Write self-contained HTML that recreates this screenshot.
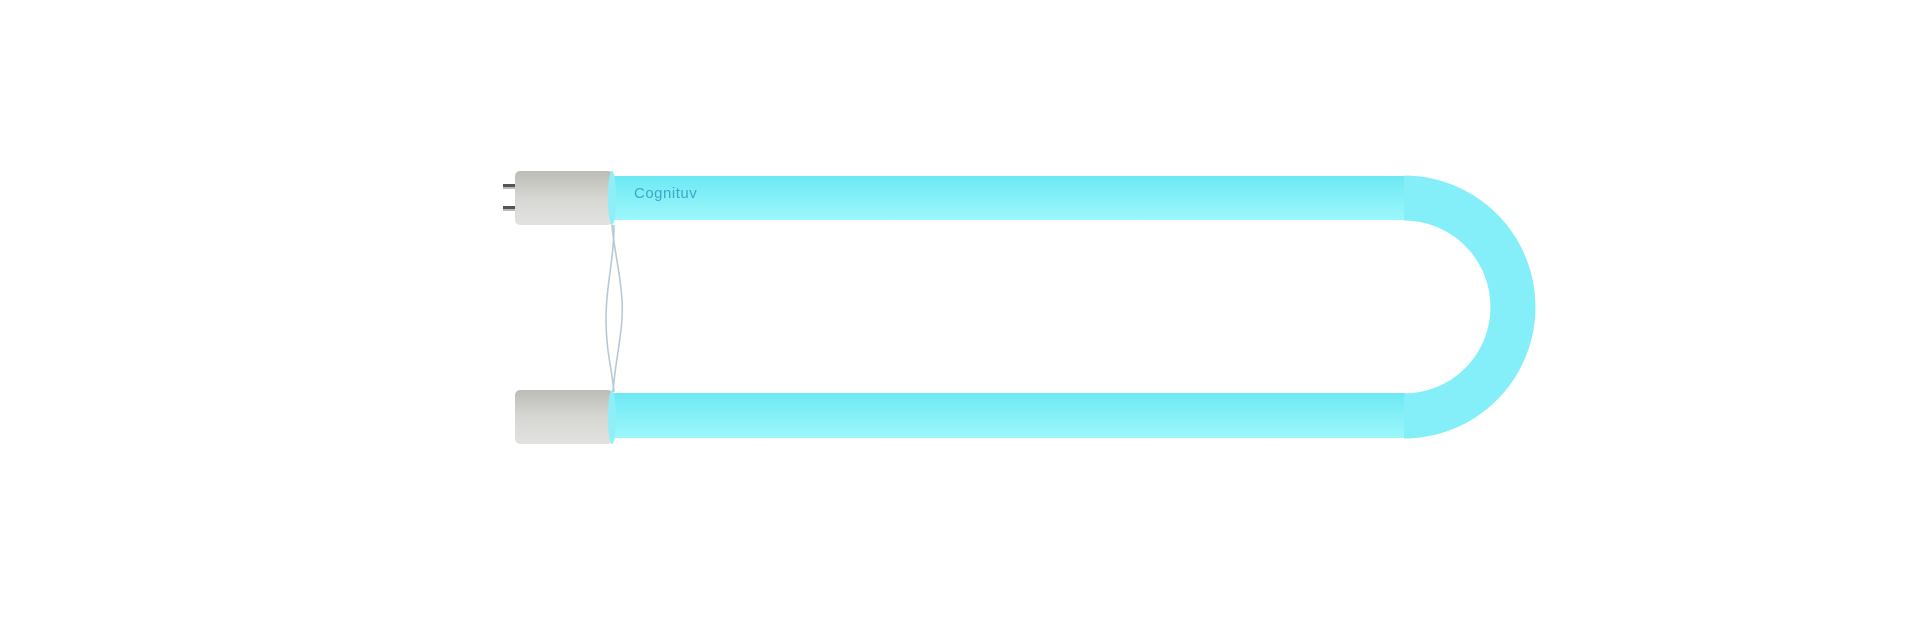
<!DOCTYPE html>
<html><head><meta charset="utf-8"><style>
html,body{margin:0;padding:0;background:#fff;width:1920px;height:632px;overflow:hidden}
</style></head><body>
<svg width="1920" height="632" viewBox="0 0 1920 632" xmlns="http://www.w3.org/2000/svg">
<defs>
<linearGradient id="tt" x1="0" y1="176" x2="0" y2="220" gradientUnits="userSpaceOnUse">
<stop offset="0" stop-color="#6de9f4"/><stop offset="1" stop-color="#9cf7fb"/></linearGradient>
<linearGradient id="tb" x1="0" y1="393" x2="0" y2="438" gradientUnits="userSpaceOnUse">
<stop offset="0" stop-color="#6de9f4"/><stop offset="1" stop-color="#9cf7fb"/></linearGradient>
<linearGradient id="cap" x1="0" y1="0" x2="0" y2="1">
<stop offset="0" stop-color="#bdbcb6"/><stop offset="0.5" stop-color="#d6d7d3"/><stop offset="1" stop-color="#e2e3e1"/></linearGradient>
</defs>
<!-- straight tubes -->
<rect x="600" y="176" width="806" height="44" fill="url(#tt)"/>
<rect x="600" y="393" width="806" height="45" fill="url(#tb)"/>
<!-- bend -->
<path d="M1404 198 A109 109 0 0 1 1404 416" fill="none" stroke="#84eff8" stroke-width="45"/>
<!-- wires -->
<path d="M612 225 C614 250,620 270,622 300 C624 330,615 360,613 392" fill="none" stroke="#b8c8d8" stroke-width="1.6"/>
<path d="M614 225 C614 260,606 285,606 320 C606 350,612 370,614 392" fill="none" stroke="#b8c8d8" stroke-width="1.6"/>
<!-- pins -->
<rect x="503" y="184" width="13" height="3" fill="#555"/>
<rect x="503" y="187" width="13" height="2" fill="#bbb"/>
<rect x="503" y="206" width="13" height="3" fill="#555"/>
<rect x="503" y="209" width="13" height="2" fill="#bbb"/>
<!-- caps -->
<rect x="515" y="171" width="98" height="54" rx="5" fill="url(#cap)"/>
<ellipse cx="612" cy="198" rx="4" ry="27" fill="#8eeff8"/>
<rect x="515" y="390" width="98" height="54" rx="5" fill="url(#cap)"/>
<ellipse cx="612" cy="417" rx="4" ry="27" fill="#8eeff8"/>
<text x="634" y="198" font-family="Liberation Sans, sans-serif" font-size="15" fill="#3fa6c8" letter-spacing="0.5">Cognituv</text>
</svg>
</body></html>
